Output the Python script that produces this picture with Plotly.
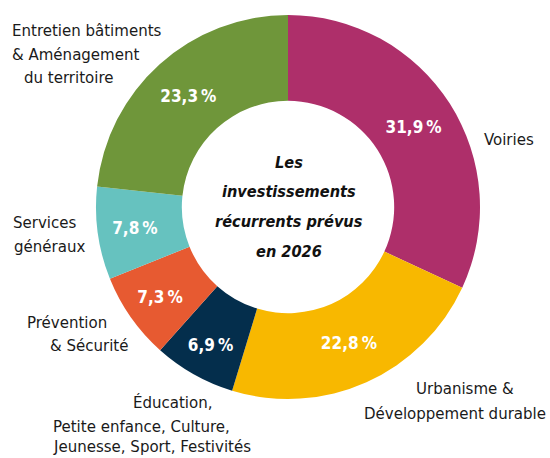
import plotly.graph_objects as go

# ---- data ----
categories = [
    "Voiries",
    "Urbanisme & Développement durable",
    "Éducation, Petite enfance, Culture, Jeunesse, Sport, Festivités",
    "Prévention & Sécurité",
    "Services généraux",
    "Entretien bâtiments & Aménagement du territoire",
]
values = [31.9, 22.8, 6.9, 7.3, 7.8, 23.3]
colors = ["#AE2F6A", "#F8B800", "#042E4C", "#E75A31", "#66C2BF", "#6F963A"]
label_lines = [
    ["Voiries"],
    ["Urbanisme &", "Développement durable"],
    ["Éducation,", "Petite enfance, Culture,", "Jeunesse, Sport, Festivités"],
    ["Prévention", "& Sécurité"],
    ["Services", "généraux"],
    ["Entretien bâtiments", "& Aménagement", "du territoire"],
]
center_lines = ["Les", "investissements", "récurrents prévus", "en 2026"]

pct_text = [f"{v:.1f}".replace(".", ",") + "\u202f%" for v in values]

# ---- layout helpers (pixel positions of label lines: center x, baseline y) ----
W, H = 550, 458
FONT = "DejaVu Sans Condensed, Liberation Sans Narrow, sans-serif"
label_pos = [
    [(508.5, 145)],
    [(465, 394), (454.5, 419)],
    [(172.5, 408), (141.5, 432), (151.5, 452)],
    [(67, 328), (89, 351)],
    [(44.5, 228), (49.5, 252)],
    [(86.7, 36), (75.8, 60), (68, 83)],
]
center_base = [168, 197, 227, 257]
LFS = 16.7
CFS = 16.2

cx, cy, R = 288, 207, 192
fig = go.Figure(
    go.Pie(
        labels=categories,
        values=values,
        text=pct_text,
        textinfo="text",
        textposition="inside",
        insidetextorientation="horizontal",
        textfont=dict(family=FONT, size=17, color="white", weight="bold"),
        marker=dict(colors=colors, line=dict(width=0)),
        hole=0.553,
        sort=False,
        direction="clockwise",
        rotation=0,
        showlegend=False,
        hoverinfo="label+percent",
        domain=dict(x=[(cx - R) / W, (cx + R) / W], y=[(H - cy - R) / H, (H - cy + R) / H]),
    )
)

annotations = []
for lines, poss in zip(label_lines, label_pos):
    for txt, (px, py) in zip(lines, poss):
        annotations.append(dict(
            x=px / W, y=1 - (py - 0.35 * LFS) / H, xref="paper", yref="paper",
            xanchor="center", yanchor="middle", showarrow=False, text=txt,
            font=dict(family=FONT, size=LFS, color="#1a1a1a"),
        ))
for txt, py in zip(center_lines, center_base):
    annotations.append(dict(
        x=288.5 / W, y=1 - (py - 0.35 * CFS) / H, xref="paper", yref="paper",
        xanchor="center", yanchor="middle", showarrow=False,
        text=f"<b><i>{txt}</i></b>",
        font=dict(family=FONT, size=CFS, color="#111111"),
    ))

fig.update_layout(
    width=W, height=H, autosize=False,
    margin=dict(l=0, r=0, t=0, b=0),
    paper_bgcolor="white", plot_bgcolor="white",
    annotations=annotations,
)
fig.write_html(
    "out.html",
    config={"displayModeBar": False},
    post_script="document.body.style.margin='0';document.body.style.overflow='hidden';",
)
